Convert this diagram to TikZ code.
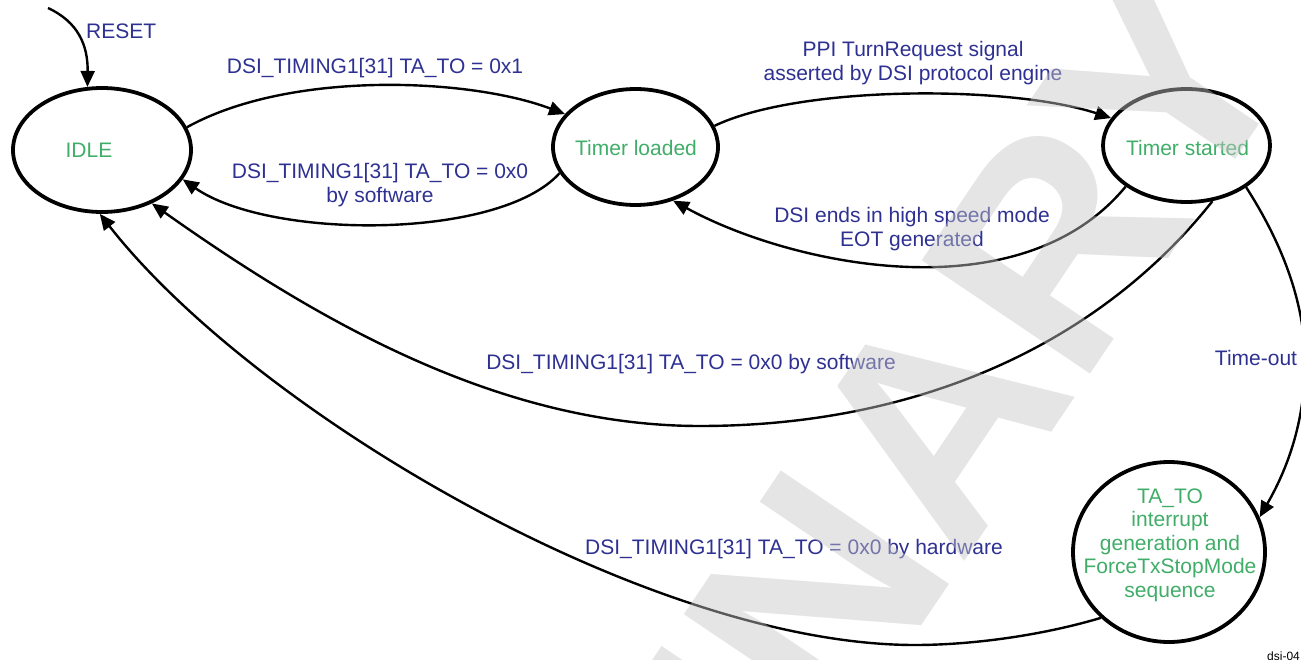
\documentclass[tikz,border=0pt]{standalone}
\usepackage{fontspec}
\setmainfont{Liberation Sans}
\usetikzlibrary{arrows.meta,shapes.geometric}
\definecolor{lblblue}{RGB}{46,49,146}
\definecolor{stgreen}{RGB}{64,173,104}
\tikzset{
  state/.style={ellipse, draw=black, line width=3.8pt, inner sep=0pt},
  conn/.style={draw=black, line width=2.4pt, -{Triangle[length=16pt,width=14pt]}},
  lbl/.style={text=lblblue, font=\fontsize{21}{23.5}\selectfont, align=center, inner sep=0pt},
  sttext/.style={text=stgreen, font=\fontsize{21}{23.5}\selectfont, align=center, inner sep=0pt},
  wm/.style={text=black!22, text opacity=0.45, font=\fontsize{295}{295}\selectfont\bfseries, inner sep=0pt},
  tag/.style={text=black, font=\fontsize{12}{12}\selectfont, inner sep=0pt}
}
\begin{document}
\begin{tikzpicture}[x=1pt,y=-1pt]
\fill[white] (0,0) rectangle (1301,660);
\useasboundingbox (0,0) rectangle (1301,660);

% states
\node[state, minimum width=178pt, minimum height=124pt] (idle) at (102,150) {};
\node[sttext] (idletxt) at (89,150) {IDLE};
\node[state, minimum width=165pt, minimum height=116pt] (tl) at (635.5,147) {};
\node[sttext] (tltxt) at (636,148) {Timer loaded};
\node[state, minimum width=167pt, minimum height=113pt] (ts) at (1186.5,145.5) {};
\node[sttext] (tstxt) at (1187.5,148) {Timer started};
\node[state, minimum width=192pt, minimum height=180pt] (ta) at (1169,552) {};
\node[sttext] (tatxt) at (1170,545) {TA\_TO\\interrupt\\generation and\\ForceTxStopMode\\sequence};

% reset
\coordinate (rst) at (48,8);
\draw[conn] (rst) .. controls (78,22) and (88,45) .. (idle.103);
\node[lbl, anchor=west] (rstlbl) at (86,31) {RESET};

% idle -> timer loaded
\draw[conn] (idle.15) .. controls (290,70) and (470,78) .. (tl.155);
\node[lbl] (l1) at (375,68) {DSI\_TIMING1[31] TA\_TO = 0x1};

% timer loaded -> idle
\draw[conn] (tl.199) .. controls (500,240) and (270,240) .. (idle.340);
\node[lbl] (l2) at (380,185) {DSI\_TIMING1[31] TA\_TO = 0x0\\by software};

% timer loaded -> timer started
\draw[conn] (tl.15) .. controls (800,85) and (1010,85) .. (ts.160);
\node[lbl] (l3) at (913,63) {PPI TurnRequest signal\\asserted by DSI protocol engine};

% timer started -> timer loaded
\draw[conn] (ts.214) .. controls (1020,315) and (790,265) .. (tl.305);
\node[lbl] (l4) at (912,229) {DSI ends in high speed mode\\EOT generated};

% timer started -> idle (software)
\coordinate (m1) at (700,426);
\draw[conn] (ts.295) .. controls (1100,343) and (920,426) .. (m1) .. controls (500,426) and (318,321) .. (idle.313);
\node[lbl] (l5) at (691,364) {DSI\_TIMING1[31] TA\_TO = 0x0 by software};

% TA_TO -> idle (hardware)
\coordinate (m2) at (915,645);
\draw[conn] (ta.224) .. controls (1040,636) and (970,645) .. (m2) .. controls (650,645) and (255,412) .. (idle.268);
\node[lbl] (l6) at (794,549) {DSI\_TIMING1[31] TA\_TO = 0x0 by hardware};

% timer started -> TA_TO (time-out)
\coordinate (m3) at (1305,362);
\draw[conn] (ts.325) .. controls (1280,240) and (1305,300) .. (m3) .. controls (1305,430) and (1282,478) .. (ta.21);
\node[lbl] (l7) at (1256,358) {Time-out};

\node[tag, anchor=west] (dsitag) at (1267,656) {dsi-04};

% watermark
\node[wm, rotate=56, anchor=base east] (wmk) at (1303,60) {PRELIMINARY};
\end{tikzpicture}
\end{document}
